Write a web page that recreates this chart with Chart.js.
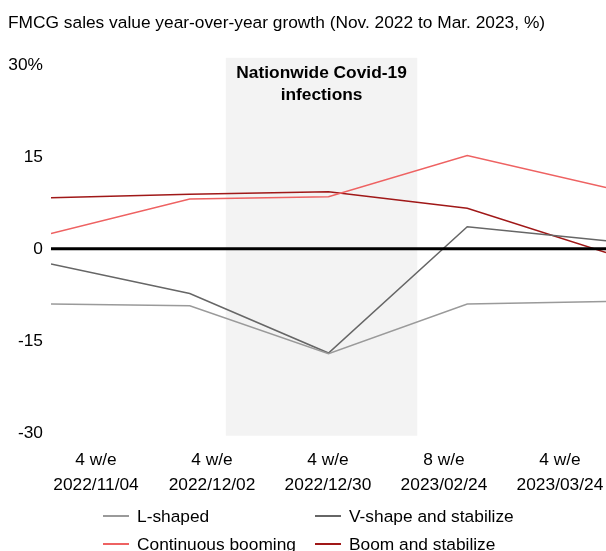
<!DOCTYPE html>
<html>
<head>
<meta charset="utf-8">
<script src="https://cdn.jsdelivr.net/npm/chart.js@4.4.0/dist/chart.umd.min.js"></script>
<style>
  html, body { margin: 0; padding: 0; background: #fff; }
  #wrap { width: 606px; height: 551px; position: relative; }
</style>
</head>
<body>
<div id="wrap"><canvas id="chart"></canvas></div>
<script>
// data
const periods = [
  ['4 w/e', '2022/11/04'],
  ['4 w/e', '2022/12/02'],
  ['4 w/e', '2022/12/30'],
  ['8 w/e', '2023/02/24'],
  ['4 w/e', '2023/03/24']
];
const lShaped = [-9.0, -9.3, -17.1, -9.0, -8.6];
const vShape = [-2.5, -7.3, -17.0, 3.6, 1.3];
const contBooming = [2.5, 8.1, 8.5, 15.2, 10.0];
const boomStable = [8.3, 8.9, 9.3, 6.6, -0.6];
const yTicks = [-30, -15, 0, 15, 30];

// covid band, in category units
const bandFrom = 1.26;
const bandTo = 2.64;
const bandText = ['Nationwide Covid-19', 'infections'];

const FONT = '"Liberation Sans", Arial, sans-serif';
const FS = 17.33;

const toPts = arr => arr.map((v, i) => ({ x: i, y: v }));

const series = [
  { label: 'L-shaped', data: lShaped, color: '#9a9a9a' },
  { label: 'V-shape and stabilize', data: vShape, color: '#666666' },
  { label: 'Continuous booming', data: contBooming, color: '#ee6262' },
  { label: 'Boom and stabilize', data: boomStable, color: '#a01818' }
];

const bandPlugin = {
  id: 'band',
  beforeDatasetsDraw(chart) {
    const { ctx, chartArea, scales } = chart;
    const x0 = scales.x.getPixelForValue(bandFrom);
    const x1 = scales.x.getPixelForValue(bandTo);
    ctx.save();
    ctx.fillStyle = '#f3f3f3';
    ctx.fillRect(x0, chartArea.top - 7, x1 - x0, chartArea.bottom - chartArea.top + 10);
    ctx.fillStyle = '#000';
    ctx.font = 'bold ' + FS + 'px ' + FONT;
    ctx.textAlign = 'center';
    ctx.textBaseline = 'middle';
    bandText.forEach((t, i) => ctx.fillText(t, (x0 + x1) / 2, chartArea.top + 8 + i * 22));
    ctx.restore();
  }
};

const zeroPlugin = {
  id: 'zero',
  afterDatasetsDraw(chart) {
    const { ctx, chartArea, scales } = chart;
    const y = scales.y.getPixelForValue(0);
    ctx.save();
    ctx.strokeStyle = '#000';
    ctx.lineWidth = 3;
    ctx.beginPath();
    ctx.moveTo(chartArea.left, y);
    ctx.lineTo(chartArea.right, y);
    ctx.stroke();
    ctx.restore();
  }
};

// two-column legend under the chart
const legendPlugin = {
  id: 'gridLegend',
  afterDraw(chart) {
    const { ctx } = chart;
    const cols = [103, 315];
    const rows = [516, 544];
    ctx.save();
    ctx.font = FS + 'px ' + FONT;
    ctx.textBaseline = 'middle';
    ctx.textAlign = 'left';
    chart.data.datasets.forEach((ds, i) => {
      const x = cols[i % 2];
      const y = rows[Math.floor(i / 2)];
      ctx.strokeStyle = ds.borderColor;
      ctx.lineWidth = 2;
      ctx.beginPath();
      ctx.moveTo(x, y);
      ctx.lineTo(x + 26, y);
      ctx.stroke();
      ctx.fillStyle = '#000';
      ctx.fillText(ds.label, x + 34, y + 1);
    });
    ctx.restore();
  }
};

new Chart(document.getElementById('chart'), {
  type: 'line',
  data: {
    datasets: series.map(s => ({
      label: s.label,
      data: toPts(s.data),
      borderColor: s.color,
      backgroundColor: s.color,
      borderWidth: 1.5,
      pointRadius: 0,
      tension: 0,
      xAxisID: 'x'
    }))
  },
  options: {
    responsive: true,
    maintainAspectRatio: false,
    animation: false,
    layout: { padding: { left: 8, right: 0, top: 0, bottom: 46 } },
    plugins: {
      legend: { display: false },
      tooltip: { enabled: false },
      title: {
        display: true,
        text: 'FMCG sales value year-over-year growth (Nov. 2022 to Mar. 2023, %)',
        align: 'start',
        color: '#000',
        font: { family: FONT, size: FS, weight: 'normal' },
        padding: { top: 13, bottom: 31 }
      }
    },
    scales: {
      x: {
        type: 'linear',
        min: 0,
        max: periods.length - 1,
        display: false
      },
      x2: {
        type: 'linear',
        position: 'bottom',
        min: -0.388,
        max: 4.397,
        grid: { display: false },
        border: { display: false },
        afterBuildTicks(axis) {
          axis.ticks = periods.map((p, i) => ({ value: i }));
        },
        afterFit(axis) {
          axis.paddingLeft = 0;
          axis.paddingRight = 0;
        },
        ticks: {
          autoSkip: false,
          maxRotation: 0,
          color: '#000',
          padding: 7,
          font: { family: FONT, size: FS, lineHeight: 1.45 },
          callback: v => periods[v]
        }
      },
      y: {
        min: -30,
        max: 30,
        afterBuildTicks(axis) {
          axis.ticks = yTicks.map(v => ({ value: v }));
        },
        afterFit(axis) { axis.width = 43; },
        grid: { display: false },
        border: { display: false },
        ticks: {
          color: '#000',
          padding: 0,
          font: { family: FONT, size: FS },
          callback: v => (v === 30 ? v + '%' : v)
        }
      }
    }
  },
  plugins: [bandPlugin, zeroPlugin, legendPlugin]
});
</script>
</body>
</html>
